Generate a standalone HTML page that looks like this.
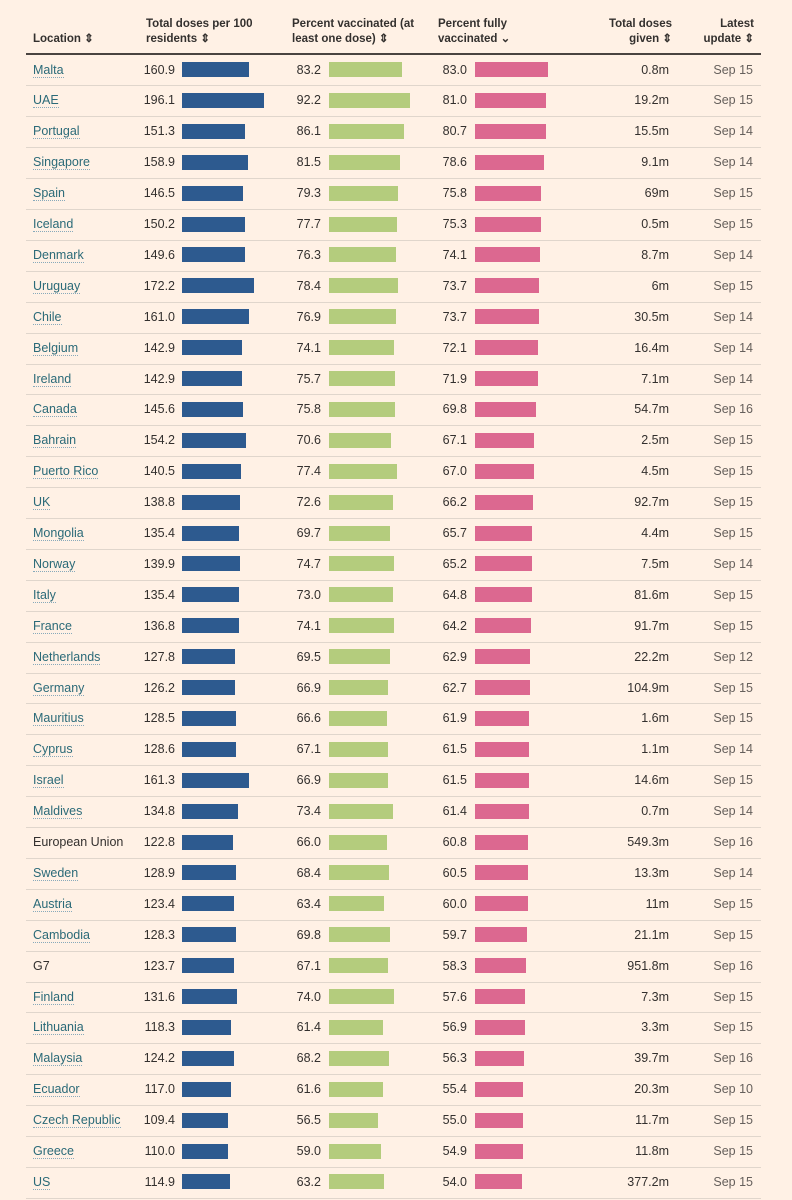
<!DOCTYPE html>
<html><head><meta charset="utf-8"><style>
body{margin:0;width:792px;height:1200px;background:#fff1e5;font-family:"Liberation Sans",sans-serif;color:#33302e;overflow:hidden;position:relative}
.h{position:absolute;font-size:11.5px;font-weight:bold;line-height:15px;color:#33302e}
.t{position:absolute;font-size:12.5px;line-height:14px}
.loc{color:#2b6a78;border-bottom:1px dotted #8ab}
.plain{color:#33302e}
.bar{position:absolute;height:15px}
.sep{position:absolute;left:26px;width:735px;height:1px;background:#e0d6cc}
</style></head><body>
<div class="h" style="left:33px;top:32px">Location ⇕</div>
<div class="h" style="left:146px;top:17px">Total doses per 100<br>residents ⇕</div>
<div class="h" style="left:292px;top:17px">Percent vaccinated (at<br>least one dose) ⇕</div>
<div class="h" style="left:438px;top:17px">Percent fully<br>vaccinated ⌄</div>
<div class="h" style="right:120px;top:17px;text-align:right">Total doses<br>given ⇕</div>
<div class="h" style="right:38px;top:17px;text-align:right">Latest<br>update ⇕</div>
<div style="position:absolute;left:26px;top:53px;width:735px;height:2px;background:#4a4440"></div>
<div id="rows"></div>
<script>
const locations=["Malta","UAE","Portugal","Singapore","Spain","Iceland","Denmark","Uruguay","Chile","Belgium","Ireland","Canada","Bahrain","Puerto Rico","UK","Mongolia","Norway","Italy","France","Netherlands","Germany","Mauritius","Cyprus","Israel","Maldives","European Union","Sweden","Austria","Cambodia","G7","Finland","Lithuania","Malaysia","Ecuador","Czech Republic","Greece","US"];
const doses=[160.9,196.1,151.3,158.9,146.5,150.2,149.6,172.2,161.0,142.9,142.9,145.6,154.2,140.5,138.8,135.4,139.9,135.4,136.8,127.8,126.2,128.5,128.6,161.3,134.8,122.8,128.9,123.4,128.3,123.7,131.6,118.3,124.2,117.0,109.4,110.0,114.9];
const firstDose=[83.2,92.2,86.1,81.5,79.3,77.7,76.3,78.4,76.9,74.1,75.7,75.8,70.6,77.4,72.6,69.7,74.7,73.0,74.1,69.5,66.9,66.6,67.1,66.9,73.4,66.0,68.4,63.4,69.8,67.1,74.0,61.4,68.2,61.6,56.5,59.0,63.2];
const fully=[83.0,81.0,80.7,78.6,75.8,75.3,74.1,73.7,73.7,72.1,71.9,69.8,67.1,67.0,66.2,65.7,65.2,64.8,64.2,62.9,62.7,61.9,61.5,61.5,61.4,60.8,60.5,60.0,59.7,58.3,57.6,56.9,56.3,55.4,55.0,54.9,54.0];
const totals=["0.8m","19.2m","15.5m","9.1m","69m","0.5m","8.7m","6m","30.5m","16.4m","7.1m","54.7m","2.5m","4.5m","92.7m","4.4m","7.5m","81.6m","91.7m","22.2m","104.9m","1.6m","1.1m","14.6m","0.7m","549.3m","13.3m","11m","21.1m","951.8m","7.3m","3.3m","39.7m","20.3m","11.7m","11.8m","377.2m"];
const updates=["Sep 15","Sep 15","Sep 14","Sep 14","Sep 15","Sep 15","Sep 14","Sep 15","Sep 14","Sep 14","Sep 14","Sep 16","Sep 15","Sep 15","Sep 15","Sep 15","Sep 14","Sep 15","Sep 15","Sep 12","Sep 15","Sep 15","Sep 14","Sep 15","Sep 14","Sep 16","Sep 14","Sep 15","Sep 15","Sep 16","Sep 15","Sep 15","Sep 16","Sep 10","Sep 15","Sep 15","Sep 15"];
const top0=54.5, rh=30.9;
const xDose=v=>v*0.418, xPct=v=>v*0.875;
const root=document.getElementById('rows');
function add(cls,style,text){const d=document.createElement('div');d.className=cls;d.style.cssText=style;if(text!=null)d.textContent=text;root.appendChild(d);return d;}
locations.forEach((loc,i)=>{
  const y=top0+i*rh, ty=y+8, by=y+7.5;
  const plain=(loc==="European Union"||loc==="G7");
  const l=add('t','left:33px;top:'+ty+'px','');
  
  
  const s=document.createElement('span');s.className=plain?'plain':'loc';s.textContent=loc;l.appendChild(s);
  const a=add('t','right:'+(792-175)+'px;top:'+ty+'px',doses[i].toFixed(1));
  
  
  const b=add('bar','left:182px;top:'+by+'px;width:'+xDose(doses[i])+'px;background:#2d5a8f');
  
  
  const c=add('t','right:'+(792-321)+'px;top:'+ty+'px',firstDose[i].toFixed(1));
  
  
  const d=add('bar','left:329px;top:'+by+'px;width:'+xPct(firstDose[i])+'px;background:#b4cc7d');
  
  
  const e=add('t','right:'+(792-467)+'px;top:'+ty+'px',fully[i].toFixed(1));
  
  
  const f=add('bar','left:475px;top:'+by+'px;width:'+xPct(fully[i])+'px;background:#dc6890');
  
  
  const g=add('t','right:'+(792-669)+'px;top:'+ty+'px',totals[i]);
  
  
  const h=add('t','right:'+(792-753)+'px;top:'+ty+'px;color:#66605c',updates[i]);
  
  
  const r=add('sep','top:'+(y+rh)+'px');
  
  
});
</script>
</body></html>
